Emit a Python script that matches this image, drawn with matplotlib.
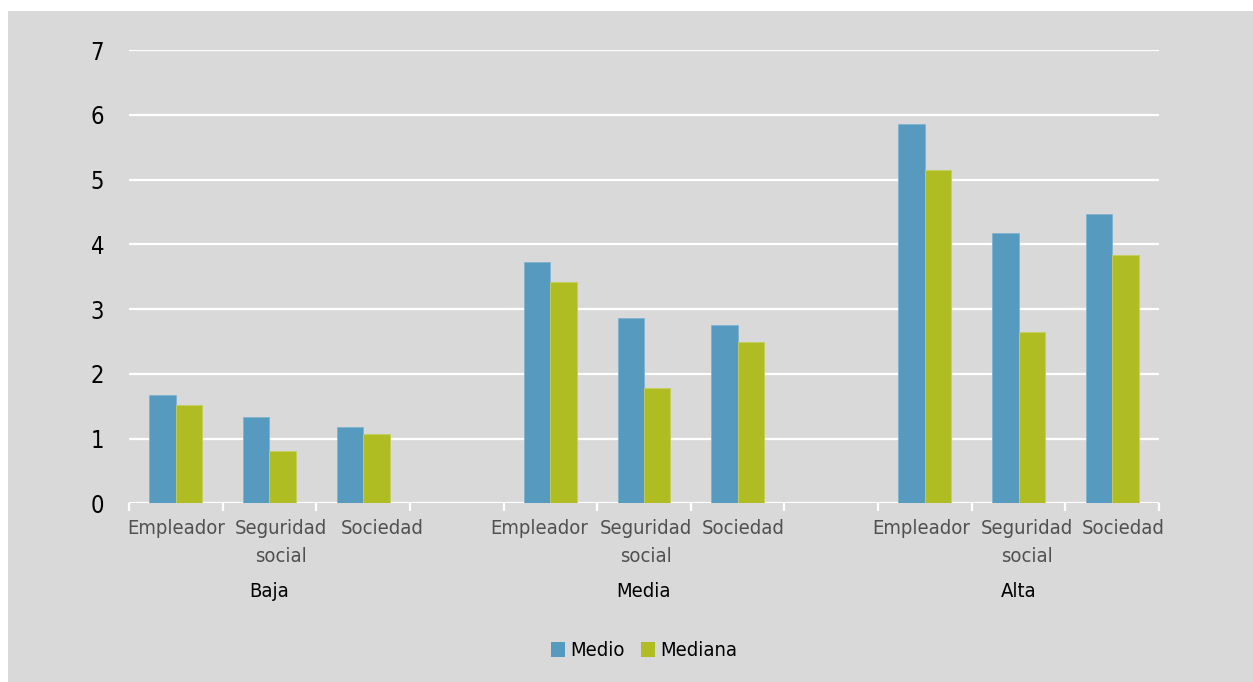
import matplotlib
matplotlib.use("Agg")
import matplotlib.pyplot as plt
from matplotlib.patches import Patch, Rectangle
import numpy as np

plt.rcParams['font.family'] = ['DejaVu Sans']
plt.rcParams['font.stretch'] = 'condensed'

# Data
groups = ["Baja", "Media", "Alta"]
categories = ["Empleador", "Seguridad\nsocial", "Sociedad"]
series_names = ["Medio", "Mediana"]
medio = [[1.67, 1.33, 1.18],
         [3.72, 2.86, 2.75],
         [5.85, 4.17, 4.47]]
mediana = [[1.52, 0.81, 1.07],
           [3.42, 1.78, 2.49],
           [5.14, 2.64, 3.83]]
y_ticks = [0, 1, 2, 3, 4, 5, 6, 7]

BLUE = "#569bbf"
GREEN = "#b0bd22"
BG = "#d9d9d9"

W, H = 1253, 682
fig = plt.figure(figsize=(W / 100, H / 100), dpi=100)
fig.patch.set_facecolor("white")
fig.add_artist(Rectangle((8 / W, 0), 1 - 8 / W, (H - 11) / H,
                         transform=fig.transFigure, facecolor=BG,
                         edgecolor="none", zorder=-10))

ax = fig.add_axes([129 / W, (H - 503.3) / H, 1030 / W, 453.3 / H])
ax.set_facecolor("none")

# each group occupies 3 slots, separated by an empty slot
slot_starts = [0, 4, 8]
bw = 0.283
for g, start in enumerate(slot_starts):
    for c in range(len(categories)):
        xc = start + c + 0.5
        ax.bar(xc - bw / 2, medio[g][c], width=bw, color=BLUE, zorder=3,
               edgecolor="#7fb3d0", linewidth=0.6)
        ax.bar(xc + bw / 2, mediana[g][c], width=bw, color=GREEN, zorder=3,
               edgecolor="#c4cf5c", linewidth=0.6)

ax.set_xlim(0, 11)
ax.set_ylim(0, 7)
ax.set_yticks(y_ticks)
ax.yaxis.grid(True, color="white", linewidth=1.6)
ax.set_axisbelow(True)
for s in ax.spines.values():
    s.set_visible(False)
ax.tick_params(axis="y", length=0, pad=18, labelsize=17, labelcolor="black")

# category boundary ticks along the baseline
ax.set_xticks(np.arange(0, 12))
ax.set_xticklabels([])
ax.tick_params(axis="x", length=6, width=1.6, color="white", direction="out")

# small horizontal nudges (points) keep neighbouring labels apart
label_shift = [[0, 8.5, 13.5], [-8, 1.5, 4], [-3, 6, 8]]
for g, start in enumerate(slot_starts):
    for c, cat in enumerate(categories):
        ax.annotate(cat, xy=(start + c + 0.5, 0), xycoords=("data", "axes fraction"),
                    xytext=(label_shift[g][c], -11), textcoords="offset points",
                    ha="center", va="top", fontsize=14.5, color="#505050",
                    linespacing=1.62, multialignment="center")
    ax.annotate(groups[g], xy=(start + 1.5, 0), xycoords=("data", "axes fraction"),
                xytext=(0, -57), textcoords="offset points",
                ha="center", va="top", fontsize=14.5, color="black")

handles = [Patch(facecolor=BLUE, edgecolor="none"),
           Patch(facecolor=GREEN, edgecolor="none")]
fig.legend(handles, series_names, loc="center", bbox_to_anchor=(644 / W, 1 - 651 / H),
           ncol=2, frameon=False, fontsize=14.5, handlelength=0.7, handleheight=0.7,
           handletextpad=0.25, columnspacing=0.8)

fig.savefig("out.png", dpi=100, facecolor=fig.get_facecolor())
